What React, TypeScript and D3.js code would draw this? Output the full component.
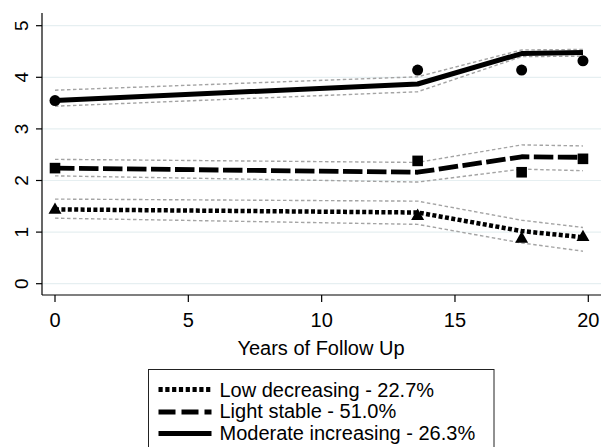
import * as d3 from "d3";

const WIDTH = 601;
const HEIGHT = 447;

// follow-up times (years)
const years = [0, 13.6, 17.5, 19.8];

// Low decreasing
const lowFit = [1.44, 1.38, 1.02, 0.9];
const lowUpper = [1.64, 1.6, 1.23, 1.09];
const lowLower = [1.27, 1.15, 0.79, 0.63];
const lowObs = [1.45, 1.33, 0.89, 0.92];

// Light stable
const lightFit = [2.24, 2.16, 2.46, 2.45];
const lightUpper = [2.41, 2.35, 2.69, 2.67];
const lightLower = [2.09, 1.97, 2.22, 2.19];
const lightObs = [2.24, 2.38, 2.16, 2.42];

// Moderate increasing
const modFit = [3.55, 3.87, 4.46, 4.48];
const modUpper = [3.75, 4.01, 4.53, 4.54];
const modLower = [3.44, 3.72, 4.4, 4.41];
const modObs = [3.55, 4.14, 4.14, 4.32];

const xTicks = [0, 5, 10, 15, 20];
const yTicks = [0, 1, 2, 3, 4, 5];
const legendLabels = [
  "Low decreasing - 22.7%",
  "Light stable - 51.0%",
  "Moderate increasing - 26.3%",
];

const FONT = "'Liberation Sans', Arial, sans-serif";
const FS = 20;
const AXIS_X = 42;
const AXIS_Y = 295;

export default function App() {
  const xScale = d3.scaleLinear().domain([0, 20]).range([55, 588.3]);
  const yScale = d3.scaleLinear().domain([0, 5]).range([283.7, 25.7]);

  const line = d3
    .line<number>()
    .x((_, i) => xScale(years[i]))
    .y((d) => yScale(d));

  const series = [
    { fit: lowFit, upper: lowUpper, lower: lowLower, obs: lowObs, dash: "4,2.4", w: 4.5, legDash: "4.2,2.6", shape: "triangle" },
    { fit: lightFit, upper: lightUpper, lower: lightLower, obs: lightObs, dash: "19.5,4.5", w: 4.8, legDash: "17,6", shape: "square" },
    { fit: modFit, upper: modUpper, lower: modLower, obs: modObs, dash: "none", w: 5, legDash: "none", shape: "circle" },
  ];

  const marker = (shape: string, cx: number, cy: number, key: string) => {
    if (shape === "circle") return <circle key={key} cx={cx} cy={cy} r={5.5} fill="#000" />;
    if (shape === "square")
      return <rect key={key} x={cx - 5.3} y={cy - 5.3} width={10.6} height={10.6} fill="#000" />;
    const s = 6.5;
    return (
      <path
        key={key}
        d={`M${cx},${cy - s}L${cx + s},${cy + s * 0.75}L${cx - s},${cy + s * 0.75}Z`}
        fill="#000"
      />
    );
  };

  return (
    <div style={{ position: "absolute", left: 0, top: 0 }}>
      <svg width={WIDTH} height={HEIGHT} style={{ display: "block", background: "#fff" }}>
        <rect width={WIDTH} height={HEIGHT} fill="#fff" />
        {/* grid */}
        {yTicks.map((t) => (
          <line
            key={"g" + t}
            x1={AXIS_X}
            x2={WIDTH}
            y1={yScale(t)}
            y2={yScale(t)}
            stroke="#e6eff1"
            strokeWidth={1.2}
          />
        ))}
        {/* confidence bands */}
        {series.map((s, i) => (
          <g key={"ci" + i}>
            <path d={line(s.upper) || ""} fill="none" stroke="#a4a4a4" strokeWidth={1.4} strokeDasharray="3.5,2.5" />
            <path d={line(s.lower) || ""} fill="none" stroke="#a4a4a4" strokeWidth={1.4} strokeDasharray="3.5,2.5" />
          </g>
        ))}
        {/* fitted lines */}
        {series.map((s, i) => (
          <path
            key={"f" + i}
            d={line(s.fit) || ""}
            fill="none"
            stroke="#000"
            strokeWidth={s.w}
            strokeDasharray={s.dash}
            strokeLinejoin="round"
          />
        ))}
        {/* observed means */}
        {series.map((s, i) =>
          s.obs.map((v, j) => marker(s.shape, xScale(years[j]), yScale(v), `m${i}-${j}`))
        )}
        {/* axes */}
        <line x1={AXIS_X} x2={AXIS_X} y1={13} y2={AXIS_Y} stroke="#000" strokeWidth={1.2} />
        <line x1={AXIS_X} x2={WIDTH} y1={AXIS_Y} y2={AXIS_Y} stroke="#000" strokeWidth={1.2} />
        {yTicks.map((t) => (
          <g key={"yt" + t}>
            <line x1={AXIS_X - 6} x2={AXIS_X} y1={yScale(t)} y2={yScale(t)} stroke="#000" strokeWidth={1.2} />
            <text
              transform={`translate(27.5, ${yScale(t)}) rotate(-90)`}
              textAnchor="middle"
              fontFamily={FONT}
              fontSize={19}
              fill="#000"
            >
              {t}
            </text>
          </g>
        ))}
        {xTicks.map((t) => (
          <g key={"xt" + t}>
            <line x1={xScale(t)} x2={xScale(t)} y1={AXIS_Y} y2={AXIS_Y + 7} stroke="#000" strokeWidth={1.2} />
            <text x={xScale(t)} y={327} textAnchor="middle" fontFamily={FONT} fontSize={FS} fill="#000">
              {t}
            </text>
          </g>
        ))}
        <text x={321} y={355} textAnchor="middle" fontFamily={FONT} fontSize={FS} fill="#000">
          Years of Follow Up
        </text>
        {/* legend */}
        <rect x={148.5} y={369.5} width={345.5} height={90} fill="#fff" stroke="#222" strokeWidth={1} />
        {legendLabels.map((lab, i) => {
          const ly = [389.5, 412, 433.5][i];
          const ty = [396.7, 418.3, 440][i];
          return (
            <g key={"l" + i}>
              <line
                x1={158.5}
                x2={211.5}
                y1={ly}
                y2={ly}
                stroke="#000"
                strokeWidth={5}
                strokeDasharray={series[i].legDash}
              />
              <text x={219.5} y={ty} fontFamily={FONT} fontSize={FS} fill="#000">
                {lab}
              </text>
            </g>
          );
        })}
      </svg>
    </div>
  );
}
